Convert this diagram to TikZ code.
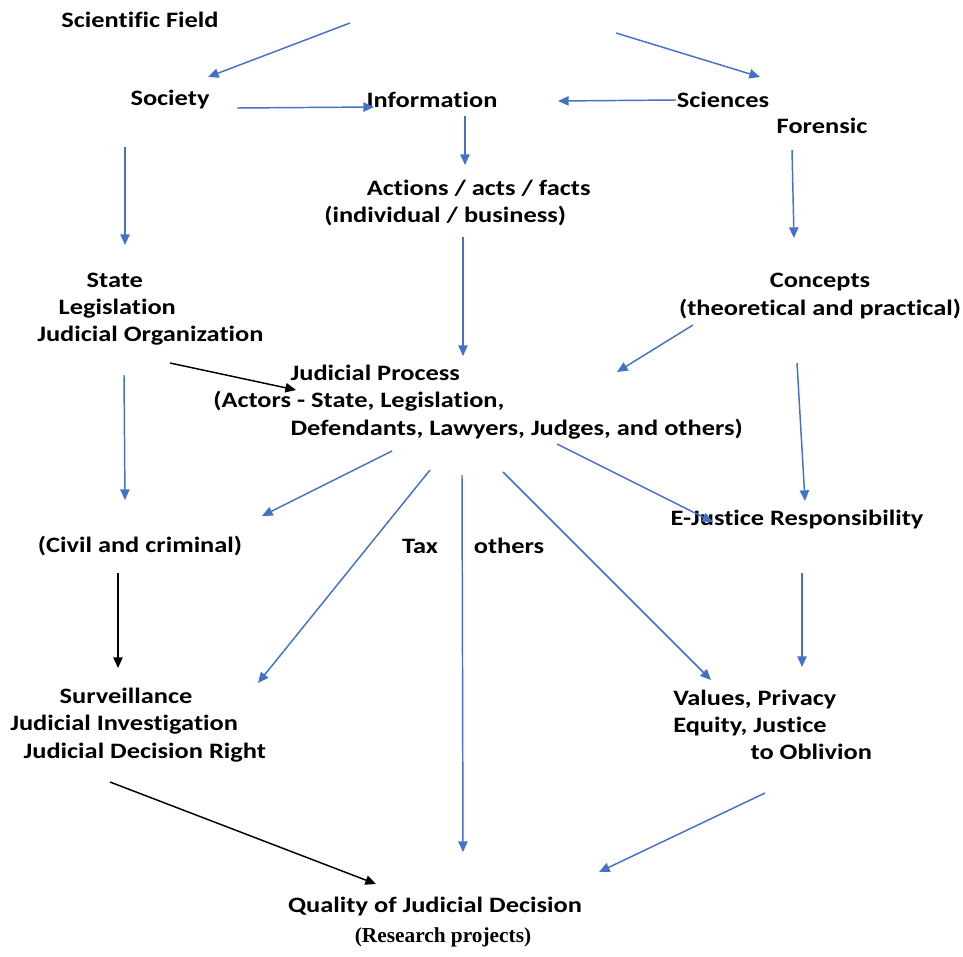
\documentclass[tikz,border=0pt]{standalone}
\usepackage{fontspec}
\setmainfont{Carlito}[FakeStretch=1.2, Ligatures=NoCommon]
\newfontfamily\timesfont{Liberation Serif}
\usetikzlibrary{arrows.meta}
\definecolor{arrowblue}{HTML}{4472C4}

\begin{document}
\begin{tikzpicture}[x=0.75pt,y=-0.75pt,
    lbl/.style={inner sep=0pt, font=\fontsize{16.5}{20.5}\selectfont\bfseries, align=left},
    blue arrow/.style={draw=arrowblue, line width=1.1pt, -{Triangle[length=8pt,width=7pt]}},
    black arrow/.style={draw=black, line width=1.1pt, -{Triangle[length=8pt,width=7pt]}}]
    \useasboundingbox (0,0) rectangle (963,956);

    % topics
    \node[lbl] (field) at (140,20) {Scientific Field};
    \node[lbl] (society) at (170,100) {Society};
    \node[lbl] (info) at (432,100) {Information};
    \node[lbl] (sciences) at (723,100) {Sciences};
    \node[lbl] (forensic) at (822,126) {Forensic};
    \node[lbl, anchor=west] (actions) at (324,203)
        {\hspace*{32pt}Actions / acts / facts\\(individual / business)};
    \node[lbl, anchor=west] (state) at (37,309)
        {\hspace*{37pt}State\\\hspace*{16pt}Legislation\\Judicial Organization};
    \node[lbl, align=center] (concepts) at (820,296)
        {Concepts\\(theoretical and practical)};
    \node[lbl, anchor=west] (process) at (213,402)
        {\hspace*{58pt}Judicial Process\\(Actors - State, Legislation,\\\hspace*{58pt}Defendants, Lawyers, Judges, and others)};
    \node[lbl] (civil) at (140,546) {(Civil and criminal)};
    \node[lbl] (tax) at (420,546) {Tax};
    \node[lbl] (others) at (509,546) {others};
    \node[lbl] (ejustice) at (797,520) {E-Justice Responsibility};
    \node[lbl, anchor=west] (surveil) at (10,725)
        {\hspace*{37pt}Surveillance\\Judicial Investigation\\\hspace*{10pt}Judicial Decision Right};
    \node[lbl, anchor=west] (values) at (673,725)
        {Values, Privacy\\Equity, Justice\\\hspace*{58pt}to Oblivion};
    \node[lbl] (quality) at (435,906) {Quality of Judicial Decision};
    \node[inner sep=0pt, font=\timesfont\fontsize{16}{18}\selectfont\bfseries] (projects) at (443,937)
        {(Research projects)};

    % free arrow ends
    \coordinate (field-l) at (350,23);
    \coordinate (field-r) at (616,33);
    \coordinate (society-in) at (208,77);
    \coordinate (sciences-in) at (760,77);
    \coordinate (society-r) at (237,108);
    \coordinate (info-l) at (374,107);
    \coordinate (sciences-l) at (676,100);
    \coordinate (info-r) at (558,101);
    \coordinate (info-b) at (465,116);
    \coordinate (actions-t) at (465,165);
    \coordinate (forensic-b) at (792,150);
    \coordinate (concepts-t) at (794,238);
    \coordinate (society-b) at (125,147);
    \coordinate (state-t) at (125,245);
    \coordinate (actions-b) at (463,237);
    \coordinate (process-t) at (463,356);
    \coordinate (state-r) at (170,363);
    \coordinate (process-l) at (296,390);
    \coordinate (concepts-l) at (693,325);
    \coordinate (process-r) at (617,372);
    \coordinate (state-b) at (124,375);
    \coordinate (civil-t) at (125,500);
    \coordinate (concepts-b) at (797,363);
    \coordinate (ejustice-t) at (805,501);
    \coordinate (process-b1) at (392,451);
    \coordinate (civil-r) at (262,516);
    \coordinate (process-b2) at (430,470);
    \coordinate (surveil-t) at (258,683);
    \coordinate (process-b3) at (462,475);
    \coordinate (quality-t) at (463,852);
    \coordinate (process-b4) at (503,472);
    \coordinate (values-t) at (711,680);
    \coordinate (process-b5) at (557,444);
    \coordinate (ejustice-l) at (713,522);
    \coordinate (ejustice-b) at (802,573);
    \coordinate (values-tr) at (802,667);
    \coordinate (civil-b) at (118,573);
    \coordinate (surveil-tt) at (118,668);
    \coordinate (surveil-b) at (110,782);
    \coordinate (quality-l) at (376,884);
    \coordinate (values-b) at (765,793);
    \coordinate (quality-r) at (599,872);

    % connectors
    \draw[blue arrow] (field-l) -- (society-in);
    \draw[blue arrow] (field-r) -- (sciences-in);
    \draw[blue arrow] (society-r) -- (info-l);
    \draw[blue arrow] (sciences-l) -- (info-r);
    \draw[blue arrow] (info-b) -- (actions-t);
    \draw[blue arrow] (forensic-b) -- (concepts-t);
    \draw[blue arrow] (society-b) -- (state-t);
    \draw[blue arrow] (actions-b) -- (process-t);
    \draw[black arrow] (state-r) -- (process-l);
    \draw[blue arrow] (concepts-l) -- (process-r);
    \draw[blue arrow] (state-b) -- (civil-t);
    \draw[blue arrow] (concepts-b) -- (ejustice-t);
    \draw[blue arrow] (process-b1) -- (civil-r);
    \draw[blue arrow] (process-b2) -- (surveil-t);
    \draw[blue arrow] (process-b3) -- (quality-t);
    \draw[blue arrow] (process-b4) -- (values-t);
    \draw[blue arrow] (process-b5) -- (ejustice-l);
    \draw[blue arrow] (ejustice-b) -- (values-tr);
    \draw[black arrow] (civil-b) -- (surveil-tt);
    \draw[black arrow] (surveil-b) -- (quality-l);
    \draw[blue arrow] (values-b) -- (quality-r);
\end{tikzpicture}
\end{document}
